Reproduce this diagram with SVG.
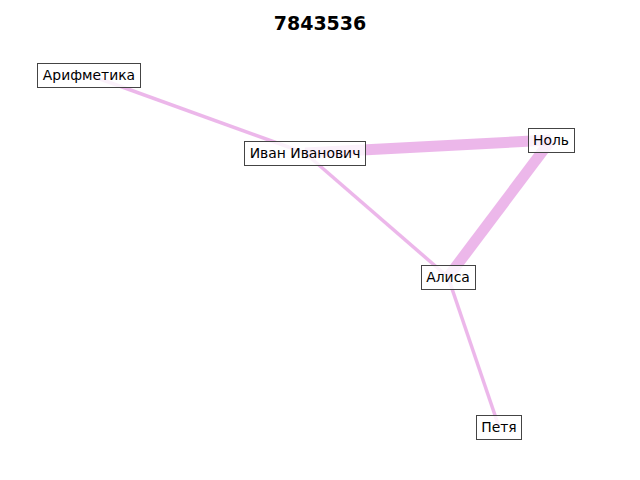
<svg xmlns="http://www.w3.org/2000/svg" width="640" height="480" viewBox="0 0 640 480">
<style>
.e{stroke:#DA70D6;stroke-opacity:0.5;stroke-linecap:butt;fill:none}
.b{fill:#fff;fill-opacity:0.8;stroke:#444;stroke-width:1}
.t{font-family:"DejaVu Sans",sans-serif;font-size:13.9px;fill:#000;text-anchor:middle}
.title{font-family:"DejaVu Sans",sans-serif;font-size:19px;font-weight:bold;text-anchor:middle}
</style>
<rect width="640" height="480" fill="#fff"/>
<text class="title" x="320" y="30">7843536</text>
<g id="edges">
<line class="e" x1="89" y1="75" x2="305" y2="153" stroke-width="3.5"/>
<line class="e" x1="305" y1="153" x2="551" y2="140" stroke-width="11"/>
<line class="e" x1="305" y1="153" x2="448" y2="277" stroke-width="3.5"/>
<line class="e" x1="551" y1="140" x2="448" y2="277" stroke-width="11"/>
<line class="e" x1="448" y1="277" x2="499" y2="427" stroke-width="3.5"/>
</g>
<g id="n-arif"><rect class="b" x="37.5" y="63.5" width="103" height="24"/><text class="t" x="89" y="80">Арифметика</text></g>
<g id="n-ivan"><rect class="b" x="244.5" y="141.5" width="121" height="24"/><text class="t" x="305" y="158">Иван Иванович</text></g>
<g id="n-nol"><rect class="b" x="528.5" y="128.5" width="46" height="24"/><text class="t" x="551" y="145">Ноль</text></g>
<g id="n-alisa"><rect class="b" x="421.5" y="265.5" width="54" height="24"/><text class="t" x="448" y="282">Алиса</text></g>
<g id="n-petya"><rect class="b" x="476.5" y="415.5" width="45" height="24"/><text class="t" x="499" y="432">Петя</text></g>
</svg>
